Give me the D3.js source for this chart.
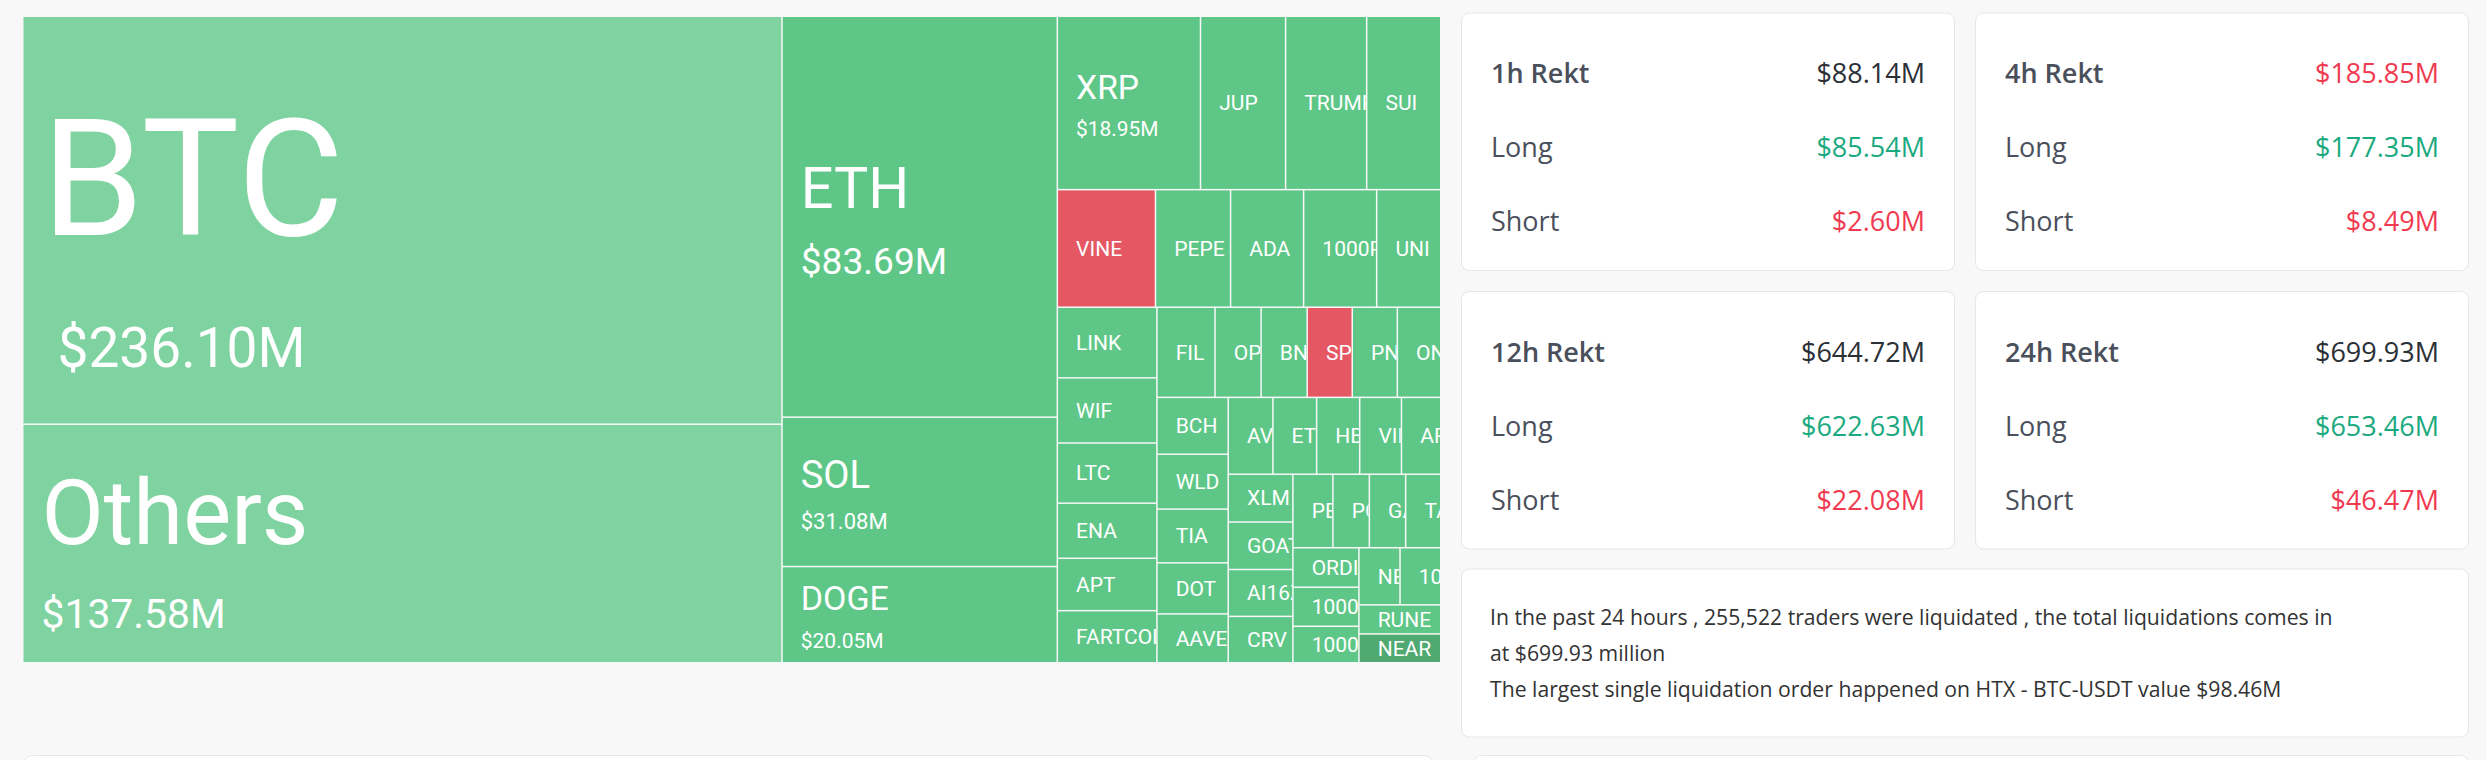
<!DOCTYPE html>
<html>
<head>
<meta charset="utf-8">
<script src="https://cdn.jsdelivr.net/npm/d3@7"></script>
<style>
  html, body { margin: 0; padding: 0; background: #f8f8f8; }
  svg { display: block; }
</style>
</head>
<body>
<svg id="chart" width="2486" height="760"></svg>
<script>
// treemap cells, in squarified order (rows of the layout follow rowSizes)
const coins = ['BTC', 'Others', 'ETH', 'SOL', 'DOGE',
  'XRP', 'JUP', 'TRUMP', 'SUI',
  'VINE', 'PEPE', 'ADA', '1000PEPE', 'UNI',
  'LINK', 'WIF', 'LTC', 'ENA', 'APT', 'FARTCOIN',
  'FIL', 'OP', 'BNB', 'SPX', 'PNUT', 'ONDO',
  'BCH', 'WLD', 'TIA', 'DOT', 'AAVE',
  'AVAX', 'ETC', 'HBAR', 'VIRTUAL', 'ARB',
  'XLM', 'GOAT', 'AI16Z', 'CRV',
  'PENGU', 'POPCAT', 'GALA', 'TAO',
  'ORDI', '1000SATS', '1000BONK',
  'NEIRO', '1000CAT',
  'RUNE', 'NEAR'];
// relative cell size
const cellSize = [3087, 1805, 1100, 410, 264,
  247.4, 147.1, 140.1, 128.0,
  115.0, 88.0, 85.6, 85.6, 75.1,
  70.1, 64.7, 59.7, 54.7, 52.0, 51.7,
  52.2, 41.4, 41.4, 40.5, 40.5, 39.0,
  40.4, 39.0, 38.2, 36.3, 34.7,
  34.2, 33.5, 33.0, 32.0, 30.1,
  30.8, 30.6, 30.2, 29.9,
  29.3, 26.7, 26.6, 25.7,
  26.0, 25.7, 24.0,
  23.4, 23.2,
  23.7, 23.5];
// liquidation amount in $M, only shown on the big cells
const amounts = [236.10, 137.58, 83.69, 31.08, 20.05, 18.95];
const tones = coins.map(c => c === 'BTC' || c === 'Others' ? 'soft'
  : c === 'VINE' || c === 'SPX' ? 'short'
  : c === 'NEAR' ? 'deep' : 'long');
const rowSizes = [2, 3, 4, 5, 6, 6, 5, 5, 4, 4, 3, 2, 2];

// rekt panels
const windows = ['1h', '4h', '12h', '24h'];
const totals = [88.14, 185.85, 644.72, 699.93];
const longs = [85.54, 177.35, 622.63, 653.46];
const shorts = [2.60, 8.49, 22.08, 46.47];
const totalTone = ['plain', 'short', 'plain', 'plain'];

const traders = 255522;
const bigOrder = { exchange: 'HTX', pair: 'BTC-USDT', value: 98.46 };

const svg = d3.select('#chart');
const money = v => '$' + d3.format('.2f')(v) + 'M';

const cellColor = d3.scaleOrdinal()
  .domain(['soft', 'long', 'deep', 'short'])
  .range(['#7fd3a0', '#5ec787', '#50a970', '#e55863']);
const textColor = d3.scaleOrdinal()
  .domain(['plain', 'long', 'short'])
  .range(['#2b2f36', '#1ba97f', '#f03a50']);

// ---------- treemap ----------
function buildTree() {
  let idx = 0;
  const rows = rowSizes.map(n => {
    const kids = d3.range(idx, idx + n).map(i => ({
      name: coins[i], size: cellSize[i], amount: amounts[i], tone: tones[i]
    }));
    idx += n;
    return { children: kids };
  });
  return rows.reduceRight((rest, row) => ({ split: true, children: rest ? [row, rest] : [row] }), null);
}

// squarify with the row breaks of the picture
function tile(node, x0, y0, x1, y1) {
  if (node.data.split) {
    const wide = x1 - x0 > y1 - y0;
    (wide ? d3.treemapDice : d3.treemapSlice)(node, x0, y0, x1, y1);
    node.children[0].across = wide;
  } else {
    (node.across ? d3.treemapSlice : d3.treemapDice)(node, x0, y0, x1, y1);
  }
}

const mapX = 23.5, mapY = 17, mapW = 1416.5, mapH = 645;
const root = d3.hierarchy(buildTree()).sum(d => d.size || 0);
d3.treemap().size([mapW, mapH]).paddingInner(1.5).tile(tile)(root);

const nameFont = d3.scaleLinear().domain([20, 85, 140, 236]).range([34, 58, 92, 164]);
const valueFont = d3.scaleLinear().domain([20, 31, 85, 140, 236]).range([21, 22, 37.5, 41, 55]);
const valuePad = d3.scaleLinear().domain([41, 55]).range([18, 34]).clamp(true);
const LH = 1.55, PAD = 18, SMALL = 21;

const map = svg.append('g').attr('transform', `translate(${mapX},${mapY})`)
  .style('font-family', 'Roboto, sans-serif');

const cell = map.selectAll('g.cell').data(root.leaves()).join('g').attr('class', 'cell');

cell.append('clipPath').attr('id', (d, i) => 'clip' + i)
  .append('rect')
  .attr('x', d => d.x0).attr('y', d => d.y0)
  .attr('width', d => d.x1 - d.x0).attr('height', d => d.y1 - d.y0);

cell.append('rect')
  .attr('x', d => d.x0).attr('y', d => d.y0)
  .attr('width', d => d.x1 - d.x0).attr('height', d => d.y1 - d.y0)
  .attr('fill', d => cellColor(d.data.tone));

const lab = cell.append('g').attr('clip-path', (d, i) => `url(#clip${i})`).attr('fill', '#fff');

lab.append('text')
  .attr('class', 'name')
  .attr('x', d => d.x0 + PAD)
  .attr('y', d => {
    const cy = (d.y0 + d.y1) / 2;
    if (d.data.amount == null) return cy + 0.35 * SMALL;
    return cy - LH * valueFont(d.data.amount) / 2 + 0.35 * nameFont(d.data.amount);
  })
  .attr('font-size', d => d.data.amount == null ? SMALL : nameFont(d.data.amount))
  .text(d => d.data.name);

lab.filter(d => d.data.amount != null).append('text')
  .attr('x', d => d.x0 + valuePad(valueFont(d.data.amount)))
  .attr('y', d => (d.y0 + d.y1) / 2 + LH * nameFont(d.data.amount) / 2 + 0.35 * valueFont(d.data.amount))
  .attr('font-size', d => valueFont(d.data.amount))
  .text(d => money(d.data.amount));

// names that run past the cell keep only the letters that start inside it (the clip cuts the last one)
lab.select('text.name').each(function (d) {
  const full = this.textContent, room = d.x1 - d.x0 - PAD;
  let n = full.length;
  while (n > 1 && this.getSubStringLength(0, n - 1) >= room) n--;
  this.textContent = full.slice(0, n);
});

// ---------- rekt cards ----------
const panelX = 1461, panelY = 12.5, cardW = 494, cardH = 258.5, gap = 20;
const panel = svg.append('g').style('font-family', '"Open Sans", sans-serif');

const cardData = windows.map((w, i) => ({
  rows: [
    { label: w + ' Rekt', value: totals[i], tone: totalTone[i], head: true },
    { label: 'Long', value: longs[i], tone: 'long' },
    { label: 'Short', value: shorts[i], tone: 'short' }
  ]
}));

const card = panel.selectAll('g.card').data(cardData).join('g').attr('class', 'card')
  .attr('transform', (d, i) => `translate(${panelX + (i % 2) * (cardW + gap)},${panelY + Math.floor(i / 2) * (cardH + gap)})`);

card.append('rect')
  .attr('x', 0.5).attr('y', 0.5).attr('width', cardW - 1).attr('height', cardH - 1)
  .attr('rx', 8).attr('fill', '#fff').attr('stroke', '#e6e6e6');

const line = card.selectAll('g.line').data(d => d.rows).join('g').attr('class', 'line')
  .attr('transform', (d, i) => `translate(0,${70.5 + i * 74})`)
  .attr('font-size', 27);

line.append('text').attr('x', 30).attr('fill', '#4a505b')
  .attr('font-weight', d => d.head ? 600 : 400)
  .text(d => d.label);
line.append('text').attr('x', cardW - 30).attr('text-anchor', 'end')
  .attr('font-weight', d => d.head ? 500 : 400)
  .attr('fill', d => textColor(d.tone)).text(d => money(d.value));

// summary card
const sumY = panelY + 2 * (cardH + gap) - 1;
const summary = panel.append('g').attr('transform', `translate(${panelX},${sumY})`);
summary.append('rect')
  .attr('x', 0.5).attr('y', 0.5).attr('width', 2 * cardW + gap - 1).attr('height', 168)
  .attr('rx', 8).attr('fill', '#fff').attr('stroke', '#e6e6e6');

const sentences = [
  `In the past 24 hours , ${d3.format(',')(traders)} traders were liquidated , the total liquidations comes in`,
  `at $${d3.format('.2f')(totals[3])} million`,
  `The largest single liquidation order happened on ${bigOrder.exchange} - ${bigOrder.pair} value ${money(bigOrder.value)}`
];
summary.selectAll('text').data(sentences).join('text')
  .attr('x', 29).attr('y', (d, i) => 56 + i * 36.3)
  .attr('font-size', 21.2).attr('fill', '#333')
  .text(d => d);

// next row of cards, cut off by the window
svg.append('rect').attr('x', 24.5).attr('y', 755.5).attr('width', 1408).attr('height', 60)
  .attr('rx', 8).attr('fill', '#fff').attr('stroke', '#e6e6e6');
svg.append('rect').attr('x', 1473.5).attr('y', 755.5).attr('width', 995).attr('height', 60)
  .attr('rx', 8).attr('fill', '#fff').attr('stroke', '#e6e6e6');
</script>
</body>
</html>
